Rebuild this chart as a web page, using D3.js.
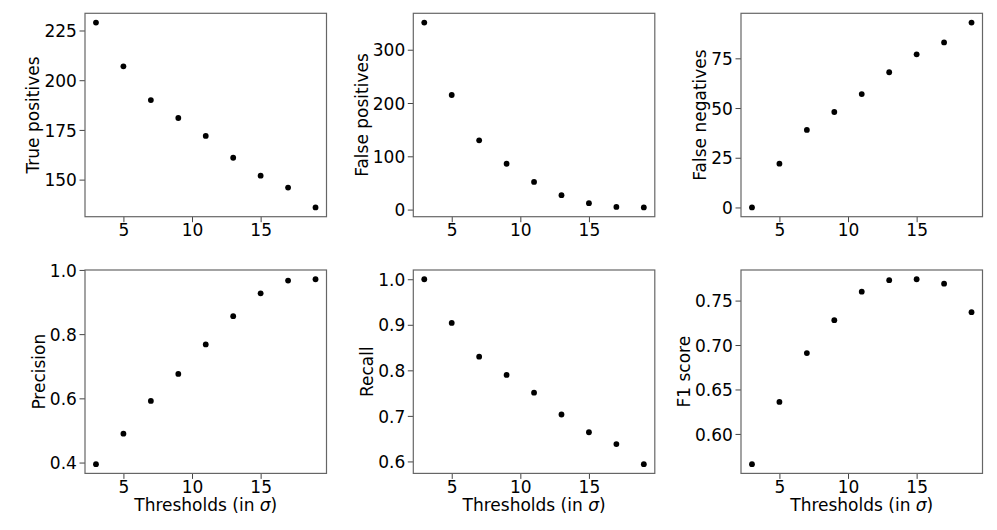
<!DOCTYPE html>
<html>
<head>
<meta charset="utf-8">
<script src="https://cdn.jsdelivr.net/npm/d3@7"></script>
<style>
  body { margin: 0; background: #fff; }
  svg { display: block; font-family: "DejaVu Sans", sans-serif; }
</style>
</head>
<body>
<svg width="997" height="530"></svg>
<script>
// thresholds (in sigma)
var thresholds = [3, 5, 7, 9, 11, 13, 15, 17, 19];

var truePositives  = [229, 207, 190, 181, 172, 161, 152, 146, 136];
var falsePositives = [351, 215, 130, 86, 52, 27, 12, 5, 4];
var falseNegatives = [0, 22, 39, 48, 57, 68, 77, 83, 93];
var precision = [0.395, 0.490, 0.592, 0.676, 0.768, 0.856, 0.927, 0.967, 0.971];
var recall    = [1.000, 0.904, 0.830, 0.790, 0.751, 0.703, 0.664, 0.638, 0.594];
var f1score   = [0.566, 0.636, 0.691, 0.728, 0.760, 0.773, 0.774, 0.769, 0.737];

var xTicks = [5, 10, 15];

var panels = [
  {label: "True positives",  values: truePositives,  ticks: [150, 175, 200, 225], fmt: "d"},
  {label: "False positives", values: falsePositives, ticks: [0, 100, 200, 300], fmt: "d"},
  {label: "False negatives", values: falseNegatives, ticks: [0, 25, 50, 75], fmt: "d"},
  {label: "Precision", values: precision, ticks: [0.4, 0.6, 0.8, 1.0], fmt: ".1f"},
  {label: "Recall",    values: recall,    ticks: [0.6, 0.7, 0.8, 0.9, 1.0], fmt: ".1f"},
  {label: "F1 score",  values: f1score,   ticks: [0.60, 0.65, 0.70, 0.75], fmt: ".2f"}
];

var svg = d3.select("svg");

var colX = [85, 413.3, 741],
    rowY = [13.3, 270],
    pw = 241.5,
    ph = 203.4;

// matplotlib style 5% margins
function padded(ext) {
    var m = (ext[1] - ext[0]) * 0.05;
    return [ext[0] - m, ext[1] + m];
}

var x = d3.scaleLinear()
    .domain(padded(d3.extent(thresholds)))
    .range([0, pw]);

panels.forEach(function(p, i) {
    var col = i % 3, row = Math.floor(i / 3);
    var g = svg.append("g")
        .attr("transform", "translate(" + colX[col] + "," + rowY[row] + ")");

    var y = d3.scaleLinear()
        .domain(padded(d3.extent(p.values)))
        .range([ph, 0]);

    var xAxis = g.append("g")
        .attr("transform", "translate(0," + ph + ")")
        .call(d3.axisBottom(x).tickValues(xTicks).tickSize(5.5).tickPadding(1.8).tickFormat(d3.format("d")));

    var yAxis = g.append("g")
        .call(d3.axisLeft(y).tickValues(p.ticks).tickSize(5.5).tickPadding(2.6).tickFormat(d3.format(p.fmt)));

    [xAxis, yAxis].forEach(function(a) {
        a.select(".domain").remove();
        a.selectAll(".tick line").attr("stroke", "#444").attr("stroke-width", 1);
        a.selectAll(".tick text")
            .attr("fill", "#000")
            .style("font-size", "17px")
            .style("font-family", "DejaVu Sans, sans-serif");
    });
    yAxis.selectAll(".tick text").attr("dy", "0.36em");

    g.append("rect")
        .attr("width", pw)
        .attr("height", ph)
        .attr("fill", "none")
        .attr("stroke", "#666")
        .attr("stroke-width", 1.2);

    g.append("g")
        .selectAll("circle")
        .data(thresholds)
        .enter().append("circle")
        .attr("cx", function(d) { return x(d); })
        .attr("cy", function(d, j) { return y(p.values[j]); })
        .attr("r", 2.9)
        .attr("fill", "#000");

    // y label sits just left of the widest tick label
    var left = d3.min(yAxis.selectAll(".tick text").nodes(), function(n) { return n.getBBox().x; });
    g.append("text")
        .attr("transform", "translate(" + (left - 5) + "," + (ph / 2) + ") rotate(-90)")
        .attr("text-anchor", "middle")
        .style("font-size", "17px")
        .text(p.label);

    if (row == 1) {
        var t = g.append("text")
            .attr("x", pw / 2)
            .attr("y", ph + 37.5)
            .attr("text-anchor", "middle")
            .style("font-size", "17px");
        t.append("tspan").text("Thresholds (in ");
        t.append("tspan").style("font-style", "italic").text("σ");
        t.append("tspan").text(")");
    }
});
</script>
</body>
</html>
